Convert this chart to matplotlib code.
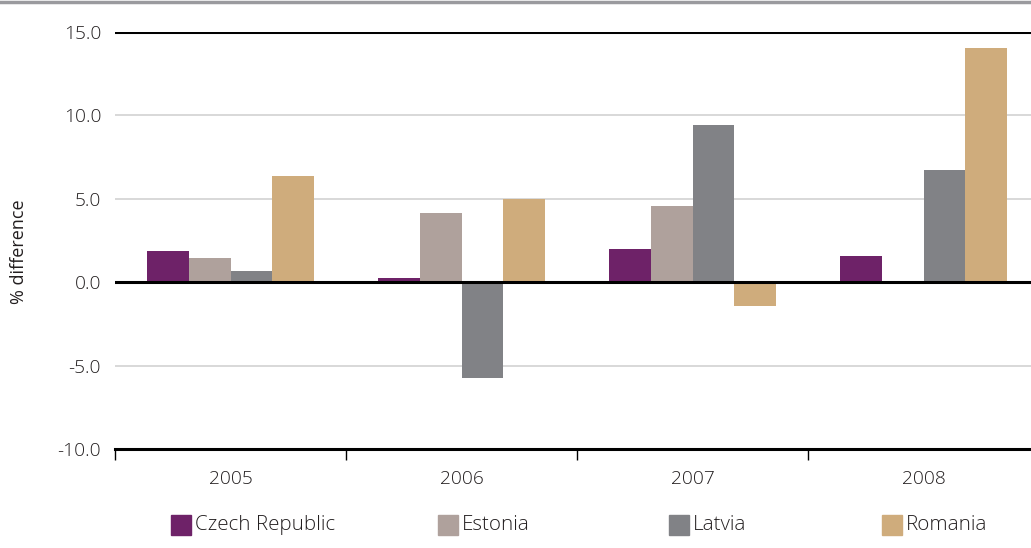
import matplotlib
matplotlib.use("Agg")
import matplotlib.pyplot as plt
import numpy as np
from matplotlib.patches import Rectangle
from matplotlib.lines import Line2D

years = ["2005", "2006", "2007", "2008"]
countries = ["Czech Republic", "Estonia", "Latvia", "Romania"]
czech = [1.9, 0.25, 2.0, 1.6]
estonia = [1.45, 4.15, 4.55, np.nan]
latvia = [0.65, -5.75, 9.4, 6.7]
romania = [6.35, 5.0, -1.4, 14.05]
colors = ["#6e2268", "#afa19c", "#818286", "#cfac7c"]
yticks = [-10, -5, 0, 5, 10, 15]

plt.rcParams['font.family'] = ['Open Sans', 'DejaVu Sans']
plt.rcParams['font.weight'] = 'light'
txt = "#231f20"

W, H = 1031, 548
fig = plt.figure(figsize=(W / 100, H / 100), dpi=100)
ax = fig.add_axes([115 / W, 1 - 449 / H, 924 / W, 417 / H])

series = [czech, estonia, latvia, romania]
x = np.arange(len(years))
bw = 0.18
for i, (vals, c) in enumerate(zip(series, colors)):
    ax.bar(x + (i - 1.5) * bw, vals, bw, color=c, zorder=2, linewidth=0)

# grid lines
for v in [10, 5, -5]:
    ax.axhline(v, color="#d6d6d6", lw=1.3, zorder=1)
ax.axhline(15, color="black", lw=2.2, zorder=3)
ax.axhline(0, color="black", lw=2.2, zorder=3)

ax.set_xlim(-0.5, 3.5)
ax.set_ylim(-10, 15)
for s in ["top", "right", "left"]:
    ax.spines[s].set_visible(False)
ax.spines["bottom"].set_linewidth(2.2)

ax.set_yticks(yticks)
ax.set_yticklabels([f"{v:.1f}" for v in yticks])
ax.tick_params(axis="y", length=0, pad=10, labelsize=13.8, labelcolor=txt)
ax.set_xticks(x)
ax.set_xticklabels(years)
ax.set_xticks(np.arange(-0.5, 3.0, 1.0), minor=True)
ax.tick_params(axis="x", which="major", length=0, pad=15, labelsize=13.8, labelcolor=txt)
ax.tick_params(axis="x", which="minor", length=8, width=1, direction="out", color="black")

fig.text(19 / W, 1 - 252 / H, "% difference", rotation=90, ha="center", va="center",
         fontsize=13, fontweight="normal", color=txt)

# top rule
fig.add_artist(Line2D([0, 1], [1 - 2 / H, 1 - 2 / H], color="#9a9a9e", lw=2.5))

# legend
leg_x = [171, 438, 669, 882]
for lx, name, c in zip(leg_x, countries, colors):
    fig.add_artist(Rectangle((lx / W, 1 - 535 / H), 20 / W, 20 / H, color=c,
                             transform=fig.transFigure))
    fig.text((lx + 24) / W, 1 - 525 / H, name, ha="left", va="center",
             fontsize=14.8, color=txt)

fig.savefig("out.png", dpi=100)
